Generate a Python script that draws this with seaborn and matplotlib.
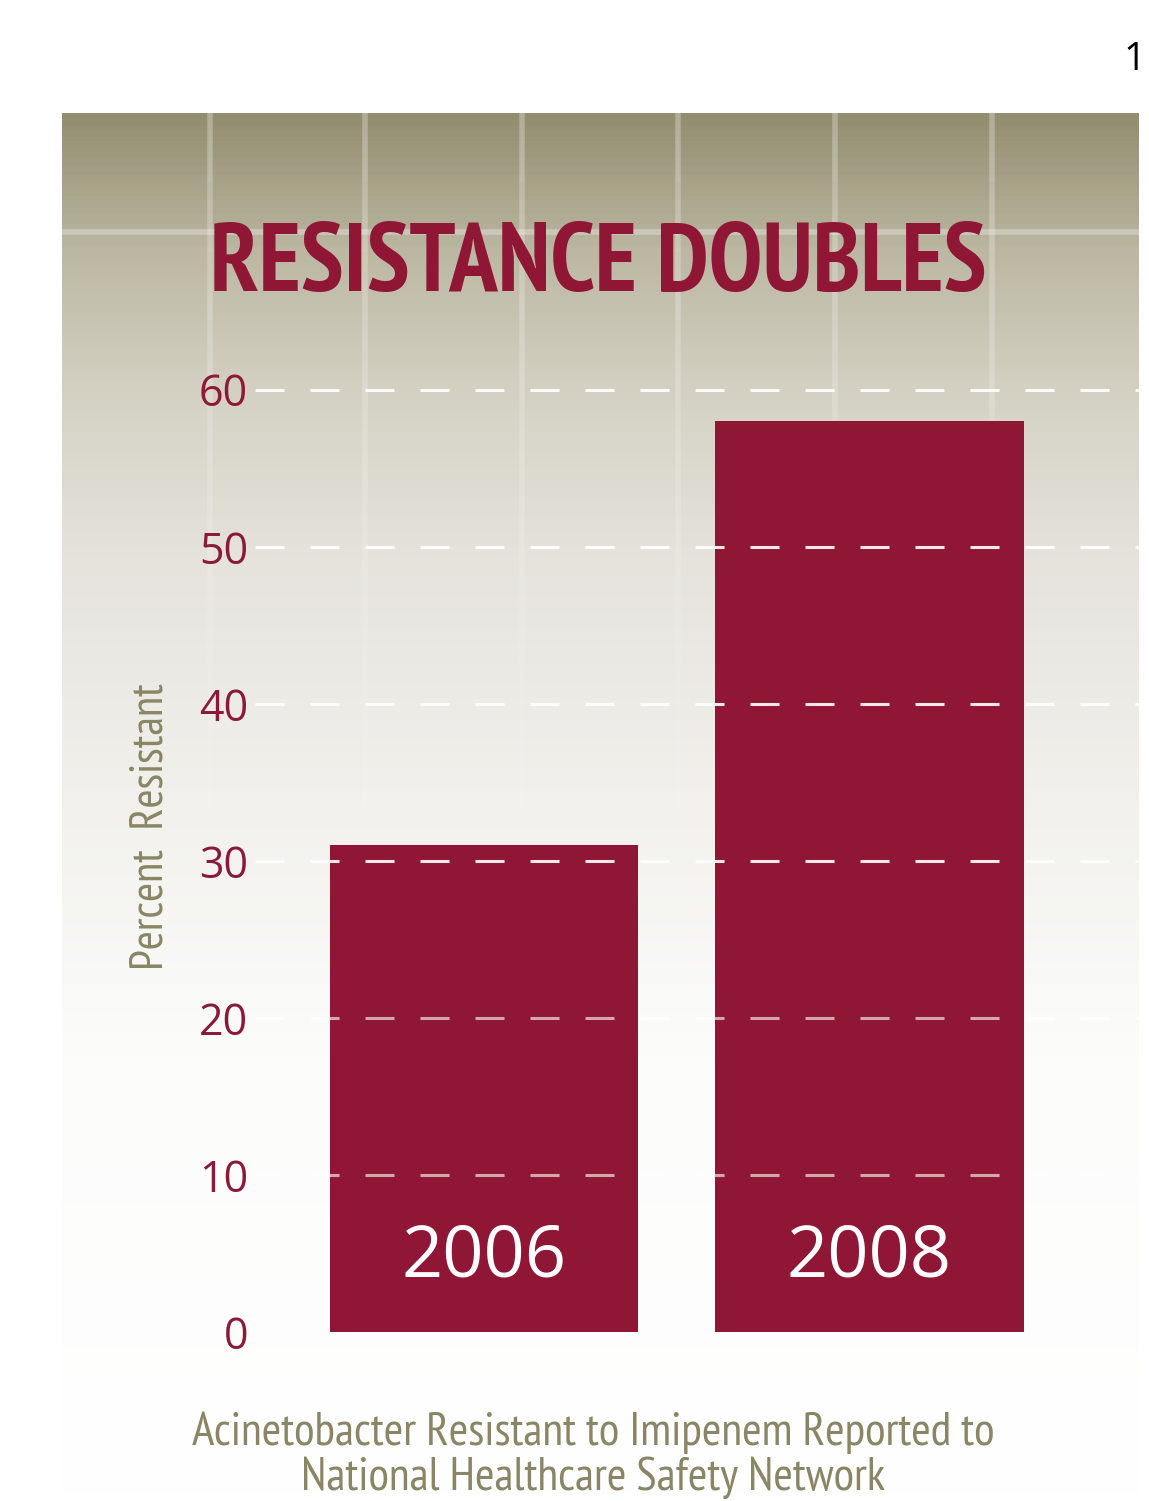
import numpy as np
import pandas as pd
import seaborn as sns
import matplotlib.pyplot as plt
from matplotlib import font_manager
from matplotlib.colors import LinearSegmentedColormap

# donnees
annees = ["2006", "2008"]
pourcentages = [31, 58]
graduations = [0, 10, 20, 30, 40, 50, 60]

titre = "RESISTANCE DOUBLES"
legende_bas = "Acinetobacter Resistant to Imipenem Reported to\nNational Healthcare Safety Network"
etiquette_y = "Percent  Resistant"

rouge = "#8f1735"
rouge_txt = "#8b1a3a"
olive = "#8a8564"

sns.set_style("white")

# police etroite si disponible, sinon DejaVu
dispo = {f.name for f in font_manager.fontManager.ttflist}
etroite = [n for n in ["PT Sans Narrow", "Fira Sans Condensed", "Roboto Condensed",
                       "Asap Condensed", "Archivo Narrow"] if n in dispo]
famille = etroite[:1] + ["DejaVu Sans"]
plt.rcParams['font.family'] = famille
chiffres = ['Open Sans', 'DejaVu Sans']

fig = plt.figure(figsize=(11.49, 15.01), dpi=100)

# fond degrade
bg = fig.add_axes([62 / 1149, 0, (1139 - 62) / 1149, (1501 - 113) / 1501])
cmap = LinearSegmentedColormap.from_list(
    "fond",
    [(0.0, "#ffffff"), (0.32, "#fcfcfb"), (0.50, "#f2f1ed"),
     (0.68, "#e5e3dc"), (0.80, "#d4d1c4"), (0.90, "#bcb8a3"), (1.0, "#948e70")])
grad = np.linspace(0, 1, 400).reshape(-1, 1)
bg.imshow(grad, aspect="auto", cmap=cmap, origin="lower", extent=[0, 1, 0, 1])
for xv in [148, 303, 460, 616, 773, 930]:
    for k in range(12):
        y0 = 1 - (k + 1) * 0.05
        bg.plot([xv / 1077, xv / 1077], [y0, y0 + 0.05], color="white",
                alpha=0.28 * (1 - k / 12), lw=4, solid_capstyle="butt")
bg.axhline(1 - (232 - 113) / 1388, color="white", alpha=0.3, lw=4)
bg.set_xlim(0, 1)
bg.set_ylim(0, 1)
bg.axis("off")

# axes principal
ax = fig.add_axes([255 / 1149, (1501 - 1332) / 1501, (1139 - 255) / 1149, (1332 - 374) / 1501])
ax.patch.set_alpha(0)
df = pd.DataFrame({"annee": annees, "pct": pourcentages})
sns.barplot(data=df, x="annee", y="pct", color=rouge, saturation=1, width=0.8,
            linewidth=0, ax=ax, zorder=2)
ax.set_xlim(-0.594, 1.699)
ax.set_ylim(0, 61)
ax.set_yticks(graduations)
ax.set_yticklabels([str(g) for g in graduations], color=rouge_txt, fontsize=31,
                   family=chiffres)
ax.tick_params(axis="y", length=0, pad=5)
ax.set_xticks([])
ax.set_xlabel("")
ax.set_ylabel(etiquette_y, color=olive, fontsize=34)
ax.yaxis.set_label_coords(-0.094, 0.528)
for s in ax.spines.values():
    s.set_visible(False)
for g in graduations[1:]:
    a = 0.62 if g <= 20 else 0.9
    ax.axhline(g, color="white", alpha=a, lw=2.2, dashes=(9.5, 8.5), zorder=3)

for i, an in enumerate(annees):
    ax.text(i, 4.7, an, color="white", fontsize=52, ha="center", va="center",
            family=chiffres, zorder=4)

t_titre = fig.text(598 / 1149, 1 - 266 / 1501, titre, color=rouge, fontsize=66, fontweight="bold",
                   ha="center", va="center")
t_leg = fig.text(593 / 1149, 1 - 1455 / 1501, legende_bas, color=olive, fontsize=38,
                 ha="center", va="center", linespacing=1.08)
fig.text(1135 / 1149, 1 - 60 / 1501, "1", color="black", fontsize=28, ha="center", va="center",
         family=chiffres)

# ajuster la taille des textes a la largeur du modele
fig.canvas.draw()
rend = fig.canvas.get_renderer()
for t, largeur in [(t_titre, 775), (t_leg, 805)]:
    w = t.get_window_extent(rend).width
    t.set_fontsize(t.get_fontsize() * largeur / w)
lab = ax.yaxis.label
h = lab.get_window_extent(rend).height
lab.set_fontsize(lab.get_fontsize() * 287 / h)

fig.savefig("out.png", dpi=100)
